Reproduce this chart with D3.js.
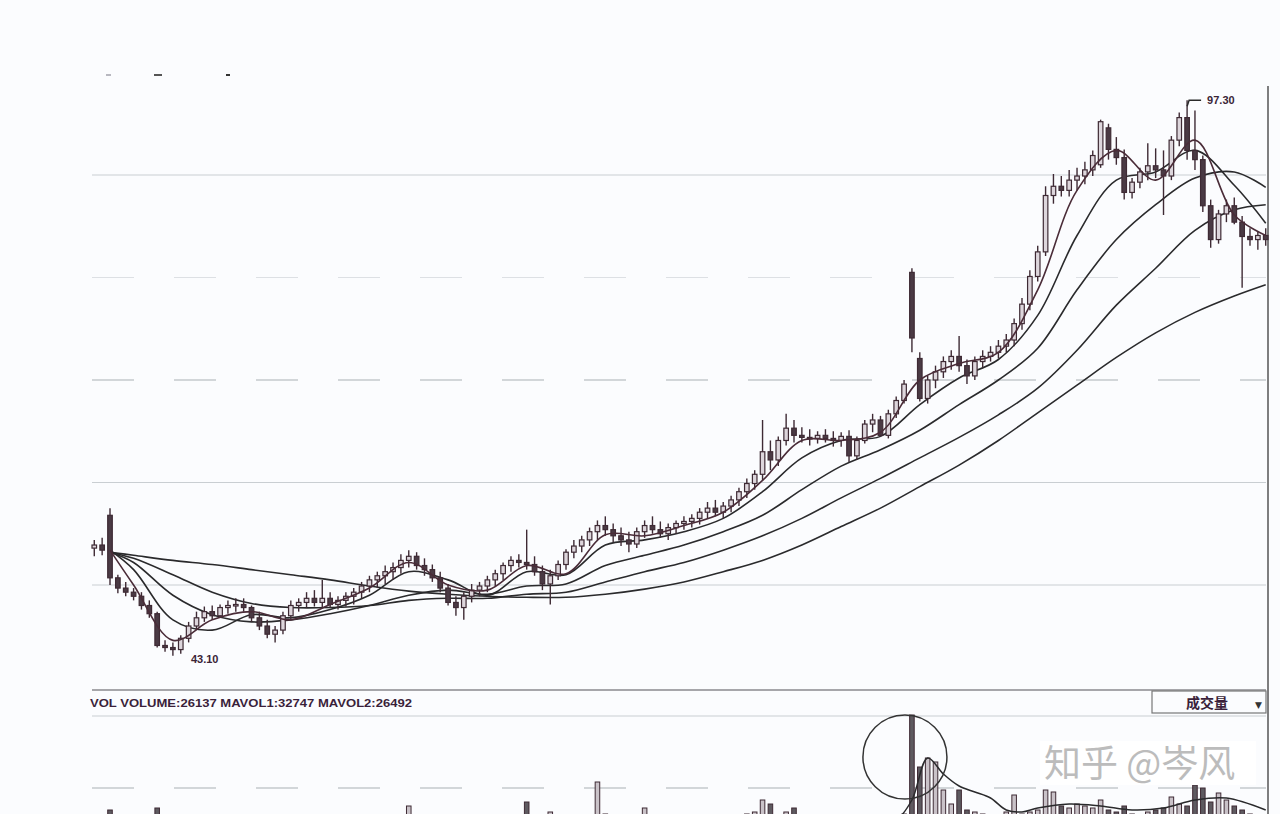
<!DOCTYPE html>
<html><head><meta charset="utf-8">
<script src="https://cdn.jsdelivr.net/npm/d3@7"></script>
<style>html,body{margin:0;padding:0;background:#fbfcfe;} svg{display:block}</style>
</head><body>
<svg id="c" width="1280" height="814"></svg>
<script>
// ---------- DATA ----------
const openP = [53.6,53.9,56.8,50.7,49.7,49.3,48.9,48.0,47.2,44.1,
 43.9,43.7,44.8,46.0,46.8,47.4,47.0,47.8,48.0,48.1,
 47.8,46.8,46.0,45.2,45.6,47.0,48.0,48.3,48.7,48.3,
 48.7,48.1,48.5,48.9,49.3,49.9,50.5,50.9,51.3,51.7,
 52.4,52.8,51.9,51.5,50.7,49.7,48.3,47.8,48.9,49.5,
 49.9,50.5,51.1,51.9,52.4,52.2,52.0,51.3,50.1,50.9,
 52.0,53.2,53.8,54.4,55.2,55.8,55.4,54.8,54.4,54.0,
 55.2,55.8,55.4,55.0,55.6,56.0,56.2,56.5,57.1,57.5,
 57.1,57.7,58.3,59.1,59.9,60.8,63.0,62.2,64.1,65.3,
 64.6,64.4,64.3,64.6,64.3,64.1,64.5,62.6,64.1,65.7,
 66.1,64.6,66.7,68.0,80.5,72.1,68.2,70.0,70.8,71.8,
 72.3,71.4,70.4,71.8,72.3,72.7,73.3,73.9,75.5,77.4,
 80.1,82.5,88.0,88.9,88.5,89.5,89.9,90.5,91.0,94.6,
 92.5,91.7,88.3,89.3,90.3,90.9,90.5,89.9,93.4,95.6,
 92.4,91.5,87.0,83.7,86.2,87.0,85.4,84.0,83.7,84.1];
const highP = [54.4,54.6,57.5,51.0,50.3,49.7,49.3,48.5,47.4,44.6,
 44.4,45.1,46.4,47.4,47.9,48.0,48.1,48.5,48.7,48.7,
 48.0,47.4,46.6,46.0,47.4,48.5,48.7,49.3,49.5,50.5,
 49.3,48.9,49.3,49.7,50.3,50.9,51.3,51.9,52.2,53.0,
 53.4,53.2,52.6,52.0,51.3,50.1,48.9,49.3,50.1,50.3,
 50.9,51.5,52.2,52.8,53.0,55.4,52.8,51.9,51.5,52.4,
 53.5,54.4,54.8,55.6,56.3,56.7,56.0,55.6,55.2,55.6,
 56.3,56.7,56.2,56.0,56.3,56.7,56.9,57.5,58.1,58.3,
 58.1,58.7,59.5,60.4,61.2,66.1,64.1,64.5,66.7,66.1,
 65.4,65.2,65.0,65.2,65.0,64.9,65.1,64.5,66.1,66.7,
 66.5,67.1,68.4,70.0,80.9,72.7,70.4,71.4,72.3,72.9,
 74.3,72.0,72.3,72.9,73.3,73.9,74.5,76.0,78.0,80.7,
 83.1,88.9,90.1,89.9,90.5,90.7,91.3,92.4,95.4,95.0,
 93.7,92.5,89.7,90.7,93.1,92.6,92.4,93.8,96.1,97.3,
 96.3,91.9,87.6,86.6,87.6,87.8,86.0,84.8,84.5,84.8];
const lowP = [52.8,52.9,50.0,49.2,48.9,48.5,47.6,46.8,43.9,43.5,
 43.1,43.3,44.4,45.6,46.4,46.6,46.8,47.2,47.4,47.4,
 46.4,45.6,44.8,44.4,45.2,46.6,47.4,47.8,47.9,47.8,
 47.8,47.6,47.9,48.1,48.7,49.3,49.7,50.1,50.5,51.1,
 51.7,51.5,50.9,50.3,49.3,48.0,47.0,46.6,48.3,48.9,
 49.3,49.9,50.5,51.3,51.7,51.5,50.9,49.5,48.1,50.5,
 51.5,52.6,53.2,53.8,54.4,54.8,54.2,53.8,53.2,53.6,
 54.6,55.0,54.6,54.4,55.0,55.4,55.6,55.9,56.5,56.7,
 56.5,57.1,57.7,58.5,59.3,60.2,61.2,61.6,63.6,63.9,
 63.9,63.6,63.8,63.9,63.5,63.5,62.0,62.2,63.8,64.9,
 64.5,64.3,66.3,67.7,72.7,67.9,67.7,69.2,70.2,71.0,
 70.8,69.6,70.0,71.2,71.8,72.1,72.7,73.3,74.9,76.8,
 79.6,82.1,87.2,87.9,87.9,88.5,89.1,89.9,90.7,91.5,
 91.0,87.6,87.7,88.7,89.5,89.7,86.1,89.5,92.8,91.5,
 90.5,86.4,82.9,83.3,85.4,85.2,79.0,83.1,82.7,83.1];
const closeP = [53.9,53.4,50.7,49.7,49.3,48.9,48.0,47.2,44.1,43.9,
 43.7,44.8,46.0,46.8,47.4,47.0,47.8,48.0,48.1,47.8,
 46.8,46.0,45.2,45.6,47.0,48.0,48.3,48.7,48.3,48.7,
 48.1,48.5,48.9,49.3,49.9,50.5,50.9,51.3,51.7,52.4,
 52.8,51.9,51.5,50.7,49.7,48.3,47.8,48.9,49.5,49.9,
 50.5,51.1,51.9,52.4,52.2,52.0,51.3,50.1,50.9,52.0,
 53.2,53.8,54.4,55.2,55.8,55.4,54.8,54.4,54.0,55.2,
 55.8,55.4,55.0,55.6,56.0,56.2,56.5,57.1,57.5,57.1,
 57.7,58.3,59.1,59.9,60.8,63.0,62.2,64.1,65.3,64.6,
 64.4,64.3,64.6,64.3,64.1,64.5,62.6,64.1,65.7,66.1,
 64.6,66.7,68.0,69.6,74.1,68.2,70.0,70.8,71.8,72.3,
 71.4,70.4,71.8,72.3,72.7,73.3,73.9,75.5,77.4,80.1,
 82.5,88.0,88.9,88.5,89.5,89.9,90.5,91.9,95.2,92.5,
 91.7,88.3,89.3,90.3,90.9,90.5,89.9,93.4,95.6,92.4,
 91.5,87.0,83.7,86.2,87.0,85.4,84.0,83.7,84.1,83.7];
const volume = [48,52,60,50,45,42,44,46,62,50,
 44,40,42,38,36,35,38,40,36,34,
 38,42,44,40,45,42,38,36,40,50,
 38,36,40,42,44,48,46,44,50,52,
 64,50,46,42,44,48,50,46,42,40,
 42,44,48,50,46,68,52,54,58,50,
 48,52,50,54,88,56,52,48,50,54,
 62,50,46,44,42,44,46,48,46,44,
 46,50,52,56,58,70,66,54,58,62,
 50,46,44,42,44,46,52,48,50,52,
 48,50,52,56,155,103,112,108,80,66,
 80,60,58,56,54,55,58,75,56,58,
 60,80,78,64,62,66,64,62,70,60,
 58,64,56,54,58,60,62,73,66,64,
 85,82,68,77,70,64,60,56,54,52];

// moving averages, read at sample candle indices
const maIdx = [2,5,10,15,20,25,30,35,40,45,50,55,60,65,70,75,80,85,90,95,100,105,110,115,120,125,130,135,140,145,149];
const ma5  = [53.4,50.0,44.6,46.6,47.4,46.6,48.1,49.7,52.2,50.0,49.5,51.9,51.1,54.9,54.8,55.8,57.1,60.2,64.1,64.1,64.9,70.0,71.6,72.7,78.8,88.5,92.4,89.5,93.4,86.1,84.1];
const ma10 = [53.4,51.5,46.6,45.6,47.1,46.8,47.6,49.0,51.3,50.5,49.0,51.3,51.0,53.9,54.4,55.2,56.5,59.1,62.4,64.1,64.5,67.6,70.2,72.0,76.3,84.1,89.5,90.3,92.4,89.0,85.3];
const ma20 = [53.2,52.2,49.0,47.1,46.4,46.6,47.2,48.0,49.0,49.5,49.1,49.9,50.1,51.9,52.9,53.9,55.2,56.8,59.3,61.6,63.2,65.1,67.6,70.0,73.1,78.8,83.7,87.1,89.7,90.3,88.8];
const ma30 = [53.2,52.6,51.0,49.3,48.2,47.8,47.8,48.0,48.5,48.7,48.7,49.1,49.3,50.3,51.3,52.2,53.4,54.8,56.5,58.5,60.4,62.4,64.4,66.6,69.2,72.9,77.3,80.9,84.6,86.6,87.1];
const ma60 = [53.2,52.9,52.4,52.0,51.5,51.0,50.5,49.9,49.4,49.1,48.9,48.8,48.8,49.1,49.6,50.3,51.3,52.4,53.9,55.7,57.5,59.6,61.7,64.1,66.8,69.5,72.2,74.6,76.6,78.2,79.3];

const volMaIdx = [100,102,104,106,108,110,112,114,116,118,120,124,128,132,136,140,144,149];
const volMa = [48,50,70,112,96,84,78,72,60,58,62,66,64,60,62,70,72,60];

const priceGrid = [50,60,70,80,90];
const priceGridDashed = [70,80];
const volGrid = [82,154];
const volHeader = "VOL  VOLUME:26137  MAVOL1:32747  MAVOL2:26492";
const volSelector = "成交量";
const watermark = "知乎 @岑风";

// ---------- CHART ----------
const svg = d3.select("#c");
const N = closeP.length;
const x = d3.scaleBand().domain(d3.range(N)).range([92, 1268]).paddingInner(0.42);
const xc = i => x(i) + x.bandwidth()/2;
const y = d3.scaleLinear().domain([50, 90]).range([585, 175]);
const yv = d3.scaleLinear().domain([0, 160]).range([870, 710]);

svg.append("rect").attr("width",1280).attr("height",814).attr("fill","#fbfcfe");

// legend remnants
[[106,5,"#b8b8c0"],[154,8,"#555"],[226,4,"#333"]].forEach(d=>{
  svg.append("rect").attr("x",d[0]).attr("y",74).attr("width",d[1]).attr("height",2).attr("fill",d[2]);
});

// price grid
svg.append("g").selectAll("line").data(priceGrid).join("line")
  .attr("x1",92).attr("x2",1266)
  .attr("y1",d=>y(d)).attr("y2",d=>y(d))
  .attr("stroke",d=>priceGridDashed.includes(d)? (d===80?"#dde0e4":"#a9b0b4") : "#c9ced2")
  .attr("stroke-width",1.2)
  .attr("stroke-dasharray",d=>priceGridDashed.includes(d)?"42,40":null);

// right border
svg.append("line").attr("x1",1268).attr("x2",1268).attr("y1",86).attr("y2",814)
  .attr("stroke","#555").attr("stroke-width",1.5);

// MA lines
const maLine = d3.line().x((d,k)=>xc(maIdx[k])).y(d=>y(d)).curve(d3.curveCatmullRom.alpha(0.5));
[ma60, ma30, ma20, ma10].forEach(arr=>{
  svg.append("path").attr("d", maLine(arr)).attr("fill","none")
    .attr("stroke","#2a2a2c").attr("stroke-width",1.6);
});

// candles
const g = svg.append("g");
const idx = d3.range(N);
g.selectAll("line.w").data(idx).join("line").attr("class","w")
  .attr("x1",xc).attr("x2",xc)
  .attr("y1",i=>y(highP[i])).attr("y2",i=>y(lowP[i]))
  .attr("stroke","#3e2a34").attr("stroke-width",1.4);
g.selectAll("rect.b").data(idx).join("rect").attr("class","b")
  .attr("x",i=>x(i)).attr("width",x.bandwidth())
  .attr("y",i=>y(Math.max(openP[i],closeP[i])))
  .attr("height",i=>Math.max(1.5, Math.abs(y(openP[i])-y(closeP[i]))))
  .attr("fill",i=>closeP[i]>=openP[i]?"#ddd6dc":"#4a3a44")
  .attr("stroke","#3e2a34").attr("stroke-width",1.2);

// MA5 on top
svg.append("path").attr("d", maLine(ma5)).attr("fill","none")
  .attr("stroke","#4a2c38").attr("stroke-width",1.6);

// high/low labels
const iHi = d3.maxIndex(highP), iLo = d3.minIndex(lowP);
svg.append("path")
  .attr("d",`M${xc(iHi)},${y(highP[iHi])+6} L${xc(iHi)+2},${y(highP[iHi])} L${xc(iHi)+14},${y(highP[iHi])}`)
  .attr("fill","none").attr("stroke","#2a2a2a").attr("stroke-width",1.5);
svg.append("text").attr("x",xc(iHi)+20).attr("y",y(highP[iHi])+4)
  .attr("font-family","Liberation Sans, Arial").attr("font-weight","bold").attr("font-size",11)
  .attr("fill","#3a2436").text(highP[iHi].toFixed(2));
svg.append("text").attr("x",xc(iLo)+18).attr("y",y(lowP[iLo])+7)
  .attr("font-family","Liberation Sans, Arial").attr("font-weight","bold").attr("font-size",11)
  .attr("fill","#3a2436").text(lowP[iLo].toFixed(2));

// ---------- VOLUME PANEL ----------
svg.append("line").attr("x1",92).attr("x2",1266).attr("y1",690).attr("y2",690)
  .attr("stroke","#8a8a8e").attr("stroke-width",1.5);
svg.append("text").attr("x",90).attr("y",707)
  .attr("font-family","Liberation Sans, Arial").attr("font-weight","bold").attr("font-size",11)
  .attr("fill","#3a1f3a").attr("textLength",322).attr("lengthAdjust","spacingAndGlyphs").text(volHeader);
svg.append("rect").attr("x",1152).attr("y",691).attr("width",114).attr("height",22)
  .attr("fill","none").attr("stroke","#777").attr("stroke-width",1.2);
svg.append("text").attr("x",1186).attr("y",708)
  .attr("font-family","Noto Sans CJK SC").attr("font-weight","bold").attr("font-size",14)
  .attr("fill","#3a1f3a").text(volSelector);
svg.append("text").attr("x",1255).attr("y",708)
  .attr("font-family","DejaVu Sans").attr("font-size",9).attr("fill","#333").text("▼");

svg.append("g").selectAll("line").data(volGrid).join("line")
  .attr("x1",92).attr("x2",1266).attr("y1",d=>yv(d)).attr("y2",d=>yv(d))
  .attr("stroke",d=>d===82?"#a9b0b4":"#c9ced2").attr("stroke-width",1.2)
  .attr("stroke-dasharray",d=>d===82?"42,40":null);

svg.append("g").selectAll("rect").data(idx).join("rect")
  .attr("x",i=>x(i)).attr("width",x.bandwidth())
  .attr("y",i=>yv(volume[i])).attr("height",i=>yv(0)-yv(volume[i]))
  .attr("fill",i=>closeP[i]>=openP[i]?"#c9c2c8":"#5e5a60")
  .attr("stroke","#3e2a34").attr("stroke-width",1);

const vLine = d3.line().x((d,k)=>xc(volMaIdx[k])).y(d=>yv(d)).curve(d3.curveCatmullRom.alpha(0.5));
svg.append("path").attr("d",vLine(volMa)).attr("fill","none").attr("stroke","#2a2a2c").attr("stroke-width",1.5);

// annotation circle around the volume spike
svg.append("circle").attr("cx",xc(d3.maxIndex(volume))-7).attr("cy",yv(d3.max(volume))+42).attr("r",42)
  .attr("fill","none").attr("stroke","#333").attr("stroke-width",1.5);

// watermark
svg.append("rect").attr("x",1040).attr("y",741).attr("width",216).attr("height",44).attr("fill","#ffffff");
svg.append("text").attr("x",1044).attr("y",777)
  .attr("font-family","Noto Sans CJK SC").attr("font-size",37).attr("fill","#bcbcbc").text(watermark);
</script>
</body></html>
